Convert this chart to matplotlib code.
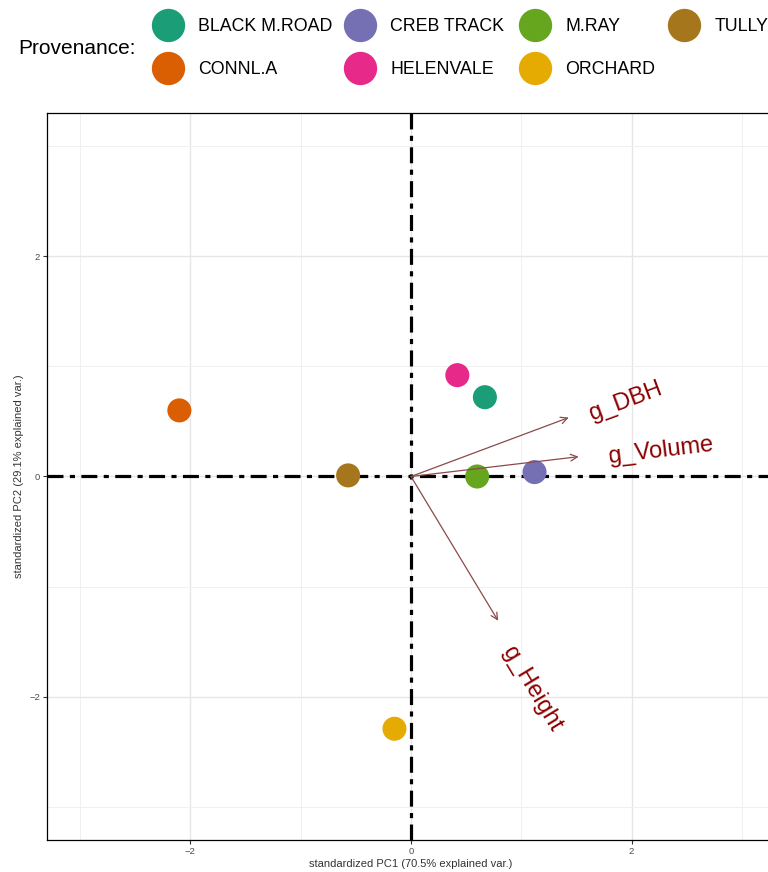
import numpy as np
import matplotlib.pyplot as plt
from matplotlib.lines import Line2D

plt.rcParams['font.family'] = ['Liberation Sans', 'DejaVu Sans']

# provenance scores on the first two standardized components
provenances = ['BLACK M.ROAD', 'CONNL.A', 'CREB TRACK', 'HELENVALE', 'M.RAY', 'ORCHARD', 'TULLY']
pc1 = [0.67, -2.10, 1.12, 0.42, 0.60, -0.15, -0.57]
pc2 = [0.72, 0.60, 0.04, 0.92, 0.00, -2.29, 0.01]
colours = ['#1B9E77', '#D95F02', '#7570B3', '#E7298A', '#66A61E', '#E6AB02', '#A6761D']

# variable loadings (arrow tips) and label positions
variables = ['g_DBH', 'g_Volume', 'g_Height']
load_x = [1.43, 1.52, 0.79]
load_y = [0.535, 0.18, -1.31]
lab_x = [1.95, 2.27, 1.10]
lab_y = [0.68, 0.23, -1.93]

fig = plt.figure(figsize=(7.68, 8.72), dpi=100)
ax = fig.add_axes([47/768, 32/872, 728/768, 727/872])

lim = 3.3
ax.set_xlim(-lim, lim)
ax.set_ylim(-lim, lim)
ax.set_xticks([-2, 0, 2])
ax.set_yticks([-2, 0, 2])
ax.set_xticks([-3, -1, 1, 3], minor=True)
ax.set_yticks([-3, -1, 1, 3], minor=True)
ax.grid(which='major', color='#E6E6E6', lw=1.0, zorder=0)
ax.grid(which='minor', color='#F0F0F0', lw=0.7, zorder=0)
ax.tick_params(which='major', length=3, width=0.8, color='#333333',
               labelsize=6.8, labelcolor='#4D4D4D', pad=2)
ax.tick_params(which='minor', length=0)
for s in ax.spines.values():
    s.set_color('black')
    s.set_linewidth(0.9)
ax.set_axisbelow(True)

# reference lines through the origin (long dash / short dash)
dd = (0, (5, 2, 1.6, 2))
ax.axhline(0, color='black', lw=2.3, ls=dd, zorder=2)
ax.axvline(0, color='black', lw=2.3, ls=dd, zorder=2)

ax.scatter(pc1, pc2, s=300, c=colours, edgecolors='none', zorder=3)

for name, x, y, tx, ty in zip(variables, load_x, load_y, lab_x, lab_y):
    ax.annotate('', xy=(x, y), xytext=(0, 0),
                arrowprops=dict(arrowstyle='->', color='#8B4A4A', lw=0.9,
                                mutation_scale=12, shrinkA=0, shrinkB=0),
                zorder=4)
    ang = np.degrees(np.arctan2(y, x))
    ax.text(tx, ty, name, color='#8B0000', fontsize=17, rotation=ang,
            rotation_mode='anchor', ha='center', va='center', zorder=5)

ax.set_xlabel('standardized PC1 (70.5% explained var.)', fontsize=8, color='#333333', labelpad=2)
ax.set_ylabel('standardized PC2 (29.1% explained var.)', fontsize=8, color='#333333', labelpad=4)

# legend across the top, filled column by column
fig.text(18/768, 1 - 48/872, 'Provenance:', fontsize=15, va='center', ha='left')
handles = [Line2D([], [], marker='o', ls='none', markersize=24, markerfacecolor=c,
                  markeredgecolor='none') for c in colours]
col_left = [150, 342, 517, 666]
for k, x0 in enumerate(col_left):
    idx = [i for i in (2 * k, 2 * k + 1) if i < len(provenances)]
    fig.legend([handles[i] for i in idx], [provenances[i] for i in idx],
               loc='upper left', bbox_to_anchor=(x0/768, 1 - 18/872),
               frameon=False, fontsize=12.8, handlelength=2.0,
               handletextpad=0.72, labelspacing=1.45,
               borderpad=0, borderaxespad=0)

fig.savefig('out.png', dpi=100)
